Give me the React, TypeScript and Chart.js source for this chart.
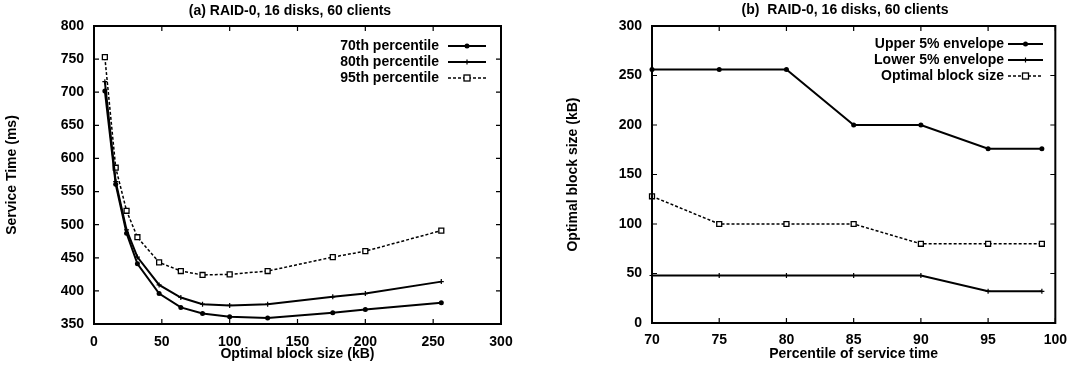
import React, { useEffect, useRef } from 'react';
import { Chart, registerables } from 'chart.js';

Chart.register(...registerables);

// ---------- data: chart (a) ----------
const blockSizes = [8, 16, 24, 32, 48, 64, 80, 100, 128, 176, 200, 256];
const p70 = [702, 561, 487, 441, 396, 375, 366, 361, 359, 367, 372, 382];
const p80 = [716, 565, 492, 451, 409, 390, 380, 378, 380, 391, 396, 414];
const p95 = [753, 586, 521, 481, 443, 430, 424, 425, 430, 451, 460, 491];
const leftLabels = ['70th percentile', '80th percentile', '95th percentile'];

// ---------- data: chart (b) ----------
const percentiles = [70, 75, 80, 85, 90, 95, 99];
const upperEnv = [256, 256, 256, 200, 200, 176, 176];
const lowerEnv = [48, 48, 48, 48, 48, 32, 32];
const optimalSize = [128, 100, 100, 100, 80, 80, 80];
const rightLabels = ['Upper 5% envelope', 'Lower 5% envelope', 'Optimal block size'];

const FAMILY = '"Liberation Sans", Arial, Helvetica, sans-serif';
const FONT = { family: FAMILY, size: 14, weight: 'bold' as const };
const CSS_FONT = `bold 14px ${FAMILY}`;
const DASH = [3, 2];
const DASH_WIDTH = 1.5;

type LegendEntry = { label: string; dash: number[]; width: number; marker: string };

function drawMarker(ctx: CanvasRenderingContext2D, kind: string, x: number, y: number) {
  ctx.save();
  ctx.setLineDash([]);
  ctx.strokeStyle = '#000';
  ctx.fillStyle = '#000';
  if (kind === 'circle') {
    ctx.beginPath();
    ctx.arc(x, y, 2.5, 0, Math.PI * 2);
    ctx.fill();
  } else if (kind === 'cross') {
    ctx.lineWidth = 1.2;
    ctx.beginPath();
    ctx.moveTo(x - 2.5, y);
    ctx.lineTo(x + 2.5, y);
    ctx.moveTo(x, y - 2.5);
    ctx.lineTo(x, y + 2.5);
    ctx.stroke();
  } else if (kind === 'rect') {
    ctx.lineWidth = 1.3;
    ctx.fillStyle = '#fff';
    ctx.fillRect(x - 3, y - 3, 6, 6);
    ctx.strokeRect(x - 3, y - 3, 6, 6);
  }
  ctx.restore();
}

const framePlugin = {
  id: 'frame',
  afterDraw(chart: any, _args: any, opts: any) {
    const { ctx, chartArea: a, scales } = chart;
    ctx.save();
    ctx.strokeStyle = '#000';
    ctx.setLineDash([]);
    // inward ticks on all four sides
    ctx.lineWidth = 1.2;
    const L = 5;
    ctx.beginPath();
    scales.x.ticks.forEach((t: any) => {
      const px = scales.x.getPixelForValue(t.value);
      ctx.moveTo(px, a.bottom);
      ctx.lineTo(px, a.bottom - L);
      ctx.moveTo(px, a.top);
      ctx.lineTo(px, a.top + L);
    });
    scales.y.ticks.forEach((t: any) => {
      const py = scales.y.getPixelForValue(t.value);
      ctx.moveTo(a.left, py);
      ctx.lineTo(a.left + L, py);
      ctx.moveTo(a.right, py);
      ctx.lineTo(a.right - L, py);
    });
    ctx.stroke();
    // box
    ctx.lineWidth = 2;
    ctx.strokeRect(a.left, a.top, a.right - a.left, a.bottom - a.top);
    // title
    ctx.fillStyle = '#000';
    ctx.font = CSS_FONT;
    ctx.textAlign = 'center';
    ctx.textBaseline = 'middle';
    ctx.fillText(opts.title, opts.titleX, opts.titleY);
    // legend
    const entries: LegendEntry[] = opts.entries;
    entries.forEach((e, i) => {
      const y = opts.legendY + i * opts.legendStep;
      ctx.textAlign = 'right';
      ctx.fillText(e.label, opts.textRight, y);
      ctx.save();
      ctx.lineWidth = e.width;
      ctx.setLineDash(e.dash);
      ctx.beginPath();
      ctx.moveTo(opts.lineX1, y);
      ctx.lineTo(opts.lineX2, y);
      ctx.stroke();
      ctx.restore();
      drawMarker(ctx, e.marker, (opts.lineX1 + opts.lineX2) / 2, y);
    });
    ctx.restore();
  },
};

function series(xs: number[], ys: number[]) {
  return xs.map((x, i) => ({ x, y: ys[i] }));
}

function lineDataset(label: string, data: any[], style: string) {
  const base: any = {
    label,
    data,
    borderColor: '#000',
    pointBorderColor: '#000',
    tension: 0,
    clip: false,
    fill: false,
  };
  if (style === 'circle') {
    Object.assign(base, {
      borderWidth: 2,
      pointStyle: 'circle',
      pointRadius: 2.5,
      pointBackgroundColor: '#000',
      pointBorderWidth: 0,
    });
  } else if (style === 'cross') {
    Object.assign(base, {
      borderWidth: 2,
      pointStyle: 'cross',
      pointRadius: 2.5,
      pointBorderWidth: 1.2,
    });
  } else {
    Object.assign(base, {
      borderWidth: DASH_WIDTH,
      borderDash: DASH,
      pointStyle: 'rect',
      pointRadius: 3.5,
      pointBackgroundColor: '#fff',
      pointBorderWidth: 1.3,
    });
  }
  return base;
}

function makeOptions(cfg: any) {
  return {
    animation: false,
    responsive: false,
    maintainAspectRatio: false,
    events: [],
    layout: { padding: cfg.padding },
    plugins: {
      legend: { display: false },
      tooltip: { enabled: false },
      title: { display: false },
      frame: cfg.frame,
    },
    scales: {
      x: {
        type: 'linear',
        min: cfg.xMin,
        max: cfg.xMax,
        ticks: { stepSize: cfg.xStep, padding: cfg.xPad, color: '#000', font: FONT, maxRotation: 0 },
        grid: { display: false, drawTicks: false },
        border: { display: false },
        title: {
          display: true,
          text: cfg.xTitle,
          color: '#000',
          font: FONT,
          padding: { top: 0, bottom: 7 },
        },
        afterFit(s: any) {
          s.height = cfg.xHeight;
        },
      },
      y: {
        type: 'linear',
        min: cfg.yMin,
        max: cfg.yMax,
        ticks: { stepSize: cfg.yStep, padding: 10, color: '#000', font: FONT },
        grid: { display: false, drawTicks: false },
        border: { display: false },
        title: {
          display: true,
          text: cfg.yTitle,
          color: '#000',
          font: FONT,
          padding: { top: cfg.yTitlePad, bottom: 0 },
        },
        afterFit(s: any) {
          s.width = cfg.yWidth;
        },
      },
    },
  };
}

export default function App() {
  const leftRef = useRef<HTMLCanvasElement>(null);
  const rightRef = useRef<HTMLCanvasElement>(null);

  useEffect(() => {
    const left = new Chart(leftRef.current as HTMLCanvasElement, {
      type: 'line',
      data: {
        datasets: [
          lineDataset(leftLabels[0], series(blockSizes, p70), 'circle'),
          lineDataset(leftLabels[1], series(blockSizes, p80), 'cross'),
          lineDataset(leftLabels[2], series(blockSizes, p95), 'rect'),
        ],
      },
      options: makeOptions({
        padding: { top: 26, right: 37, bottom: 0, left: 0 },
        xMin: 0,
        xMax: 300,
        xStep: 50,
        xPad: 10,
        yMin: 350,
        yMax: 800,
        yStep: 50,
        xTitle: 'Optimal block size (kB)',
        yTitle: 'Service Time (ms)',
        yTitlePad: 4,
        xHeight: 46,
        yWidth: 94,
        frame: {
          title: '(a) RAID-0, 16 disks, 60 clients',
          titleX: 290,
          titleY: 11,
          legendY: 46,
          legendStep: 16,
          textRight: 439,
          lineX1: 448,
          lineX2: 486,
          entries: [
            { label: leftLabels[0], dash: [], width: 2, marker: 'circle' },
            { label: leftLabels[1], dash: [], width: 2, marker: 'cross' },
            { label: leftLabels[2], dash: DASH, width: DASH_WIDTH, marker: 'rect' },
          ],
        },
      }) as any,
      plugins: [framePlugin],
    } as any);

    const right = new Chart(rightRef.current as HTMLCanvasElement, {
      type: 'line',
      data: {
        datasets: [
          lineDataset(rightLabels[0], series(percentiles, upperEnv), 'circle'),
          lineDataset(rightLabels[1], series(percentiles, lowerEnv), 'cross'),
          lineDataset(rightLabels[2], series(percentiles, optimalSize), 'rect'),
        ],
      },
      options: makeOptions({
        padding: { top: 26, right: 18, bottom: 0, left: 0 },
        xMin: 70,
        xMax: 100,
        xStep: 5,
        xPad: 9,
        yMin: 0,
        yMax: 300,
        yStep: 50,
        xTitle: 'Percentile of service time',
        yTitle: 'Optimal block size (kB)',
        yTitlePad: 26.6,
        xHeight: 47,
        yWidth: 114,
        frame: {
          title: '(b)  RAID-0, 16 disks, 60 clients',
          titleX: 307,
          titleY: 10,
          legendY: 44,
          legendStep: 16,
          textRight: 466,
          lineX1: 470,
          lineX2: 505,
          entries: [
            { label: rightLabels[0], dash: [], width: 2, marker: 'circle' },
            { label: rightLabels[1], dash: [], width: 2, marker: 'cross' },
            { label: rightLabels[2], dash: DASH, width: DASH_WIDTH, marker: 'rect' },
          ],
        },
      }) as any,
      plugins: [framePlugin],
    } as any);

    return () => {
      left.destroy();
      right.destroy();
    };
  }, []);

  return (
    <div style={{ position: 'absolute', left: 0, top: 0, width: 1076, height: 370, background: '#fff' }}>
      <canvas
        ref={leftRef}
        width={538}
        height={370}
        style={{ position: 'absolute', left: 0, top: 0, width: 538, height: 370 }}
      />
      <canvas
        ref={rightRef}
        width={538}
        height={370}
        style={{ position: 'absolute', left: 538, top: 0, width: 538, height: 370 }}
      />
    </div>
  );
}
